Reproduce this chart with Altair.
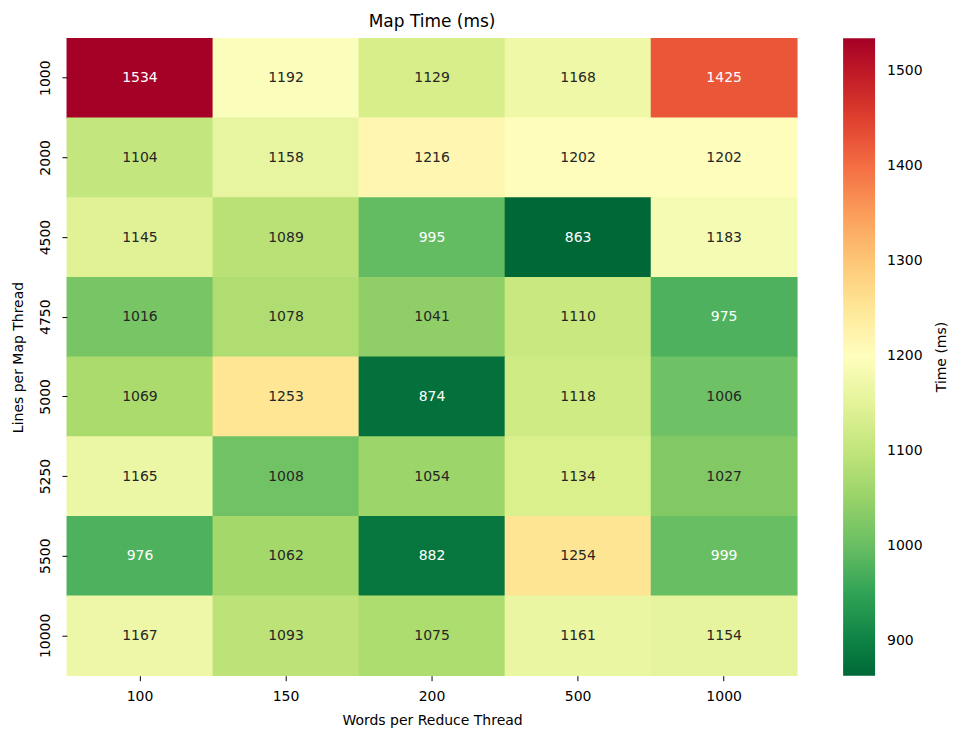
import altair as alt
import pandas as pd

words = ["100", "150", "200", "500", "1000"]
lines = ["1000", "2000", "4500", "4750", "5000", "5250", "5500", "10000"]
times = [
    [1534, 1192, 1129, 1168, 1425],
    [1104, 1158, 1216, 1202, 1202],
    [1145, 1089, 995, 863, 1183],
    [1016, 1078, 1041, 1110, 975],
    [1069, 1253, 874, 1118, 1006],
    [1165, 1008, 1054, 1134, 1027],
    [976, 1062, 882, 1254, 999],
    [1167, 1093, 1075, 1161, 1154],
]
cbar_ticks = [900, 1000, 1100, 1200, 1300, 1400, 1500]
cbar_title = ["Time (ms)"]
rdylgn_r = ["#006837", "#1a9850", "#66bd63", "#a6d96a", "#d9ef8b", "#ffffbf",
            "#fee08b", "#fdae61", "#f46d43", "#d73027", "#a50026"]

rows = []
for i, ln in enumerate(lines):
    for j, w in enumerate(words):
        rows.append({"lines": ln, "words": w, "time": times[i][j]})
df = pd.DataFrame(rows)

vmin = df["time"].min()
vmax = df["time"].max()
n = len(rdylgn_r)
stops = [vmin + k * (vmax - vmin) / (n - 1) for k in range(n)]

FONT = "DejaVu Sans"
FS = 14
W, H = 731, 638

base = alt.Chart(df).encode(
    x=alt.X("words:O", sort=words, title="Words per Reduce Thread",
            scale=alt.Scale(paddingInner=0, paddingOuter=0),
            axis=alt.Axis(labelAngle=0, domain=False, tickSize=5, tickColor="#000",
                          labelFontSize=FS, titleFontSize=FS, labelColor="#000",
                          titleFontWeight="normal", titleColor="#000",
                          labelFont=FONT, titleFont=FONT, labelPadding=9, titlePadding=10)),
    y=alt.Y("lines:O", sort=lines, title="Lines per Map Thread",
            scale=alt.Scale(paddingInner=0, paddingOuter=0),
            axis=alt.Axis(labelAngle=270, labelAlign="center", labelBaseline="bottom",
                          domain=False, tickSize=5, tickColor="#000",
                          labelFontSize=FS, titleFontSize=FS, labelColor="#000",
                          titleFontWeight="normal", titleColor="#000",
                          labelFont=FONT, titleFont=FONT, labelPadding=9, titlePadding=13)),
)

rect = base.mark_rect(
    width=W / len(words) + 0.8, height=H / len(lines) + 0.8, strokeWidth=0
).encode(
    color=alt.Color("time:Q", title=None,
                    scale=alt.Scale(domain=stops, range=rdylgn_r, interpolate="rgb"),
                    legend=alt.Legend(type="gradient", orient="none", legendX=777, legendY=0,
                                      direction="vertical",
                                      gradientLength=H, gradientThickness=32,
                                      gradientStrokeWidth=0, format="d",
                                      values=cbar_ticks, labelFontSize=FS,
                                      labelColor="#000", labelFont=FONT,
                                      labelOffset=12)),
)

text = base.mark_text(fontSize=FS, font=FONT).encode(
    text=alt.Text("time:Q", format="d"),
    color=alt.condition("datum.time < 1000 || datum.time > 1350",
                        alt.value("#ffffff"), alt.value("#262626")),
)

ctitle = alt.Chart(pd.DataFrame({"t": cbar_title})).mark_text(
    angle=270, fontSize=FS, font=FONT, color="#000", align="center", baseline="middle"
).encode(x=alt.value(876), y=alt.value(319), text="t:N")

chart = (rect + text + ctitle).properties(
    width=W, height=H,
    title=alt.Title("Map Time (ms)", fontSize=17, fontWeight="normal", font=FONT,
                    color="#000", offset=7),
    padding={"left": 4, "top": 4, "right": 0, "bottom": 5},
).configure_view(stroke=None)

chart.save("out.html", embed_options={"renderer": "svg", "actions": False})
